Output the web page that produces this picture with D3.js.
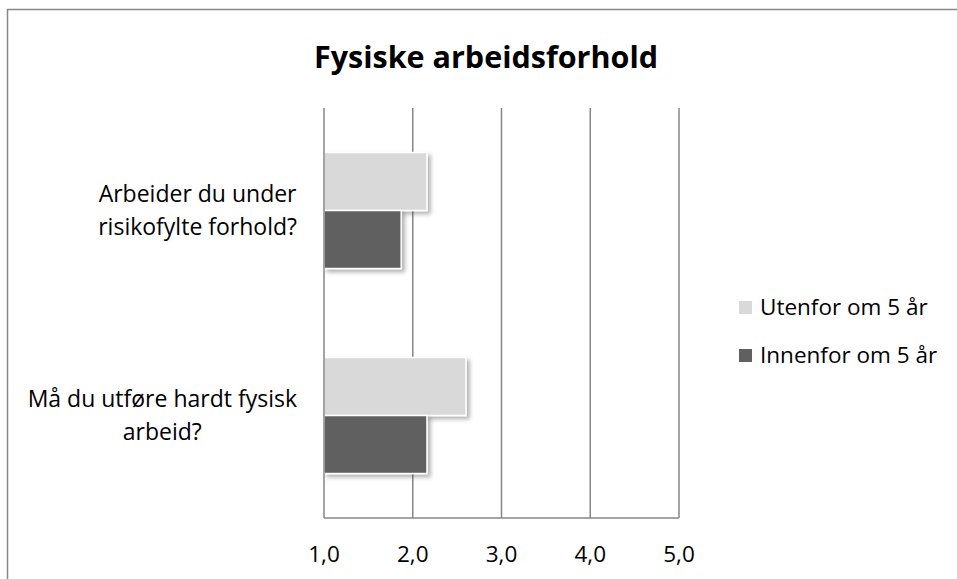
<!DOCTYPE html>
<html>
<head>
<meta charset="utf-8">
<script src="https://cdn.jsdelivr.net/npm/d3@7"></script>
<style>
  html, body { margin: 0; padding: 0; background: #fff; }
  svg { display: block; font-family: "Open Sans", "Noto Sans", sans-serif; }
</style>
</head>
<body>
<svg id="chart" width="957" height="579"></svg>
<script>
const title = "Fysiske arbeidsforhold";
const categories = [
  ["Arbeider du under", "risikofylte forhold?"],
  ["Må du utføre hardt fysisk", "arbeid?"]
];
const seriesNames = ["Utenfor om 5 år", "Innenfor om 5 år"];
const utenfor = [2.16, 2.60];
const innenfor = [1.87, 2.16];
const tickValues = [1, 2, 3, 4, 5];
const colors = ["#d9d9d9", "#606060"];

const svg = d3.select("#chart");
const W = 957, H = 579;
const m = { left: 324, right: 278, top: 108, bottom: 61 };

// outer border
svg.append("rect").attr("x", 7.5).attr("y", 9.5).attr("width", W).attr("height", H)
  .attr("fill", "none").attr("stroke", "#888").attr("stroke-width", 1.5);

const defs = svg.append("defs");
const f = defs.append("filter").attr("id", "shadow").attr("x", "-10%").attr("y", "-10%").attr("width", "130%").attr("height", "130%");
f.append("feDropShadow").attr("dx", 3).attr("dy", 3).attr("stdDeviation", 2).attr("flood-color", "#000").attr("flood-opacity", 0.3);

const x = d3.scaleLinear().domain([1, 5]).range([m.left, W - m.right]);
const y = d3.scaleBand().domain(d3.range(categories.length)).range([m.top, H - m.bottom]).paddingInner(0.434).paddingOuter(0.217);
const y1 = d3.scaleBand().domain([0, 1]).range([0, y.bandwidth()]);

// gridlines
svg.append("g").selectAll("line").data(tickValues.slice(1)).join("line")
  .attr("x1", d => x(d)).attr("x2", d => x(d))
  .attr("y1", m.top).attr("y2", H - m.bottom)
  .attr("stroke", "#868686").attr("stroke-width", 1.5);

// bars
const series = [utenfor, innenfor];
const g = svg.append("g");
categories.forEach((c, i) => {
  series.forEach((s, j) => {
    g.append("rect")
      .attr("x", x(1))
      .attr("y", y(i) + y1(j))
      .attr("width", x(s[i]) - x(1))
      .attr("height", y1.bandwidth())
      .attr("fill", colors[j])
      .attr("stroke", "#fff").attr("stroke-width", 1.5)
      .attr("filter", "url(#shadow)");
  });
});

// axes lines
svg.append("line").attr("x1", x(1)).attr("x2", x(1)).attr("y1", m.top).attr("y2", H - m.bottom)
  .attr("stroke", "#868686").attr("stroke-width", 1.5);
svg.append("line").attr("x1", x(1)).attr("x2", x(5)).attr("y1", H - m.bottom).attr("y2", H - m.bottom)
  .attr("stroke", "#868686").attr("stroke-width", 1.5);

// tick labels
svg.append("g").selectAll("text").data(tickValues).join("text")
  .attr("x", d => x(d)).attr("y", 562)
  .attr("text-anchor", "middle").attr("font-size", 22.5).attr("fill", "#000")
  .text(d => d.toFixed(1).replace(".", ","));

// category labels: lines centered within a block right-aligned at 297
categories.forEach((c, i) => {
  const cy = y(i) + y.bandwidth() / 2;
  const t = svg.append("text").attr("text-anchor", "middle").attr("font-size", 23).attr("fill", "#000");
  const spans = c.map((line, k) => t.append("tspan").attr("y", cy - 9 + k * 33).text(line));
  const maxW = d3.max(spans, s => s.node().getComputedTextLength());
  spans.forEach(s => s.attr("x", 297 - maxW / 2));
});

// title
svg.append("text").attr("x", 486).attr("y", 68).attr("text-anchor", "middle")
  .attr("font-size", 30.5).attr("font-weight", "bold").attr("fill", "#000").text(title);

// legend
seriesNames.forEach((n, j) => {
  const ly = 315 + j * 48;
  svg.append("rect").attr("x", 739).attr("y", ly - 14).attr("width", 13).attr("height", 13).attr("fill", colors[j]);
  svg.append("text").attr("x", 760).attr("y", ly).attr("font-size", 22.5).attr("fill", "#000").text(n);
});
</script>
</body>
</html>
